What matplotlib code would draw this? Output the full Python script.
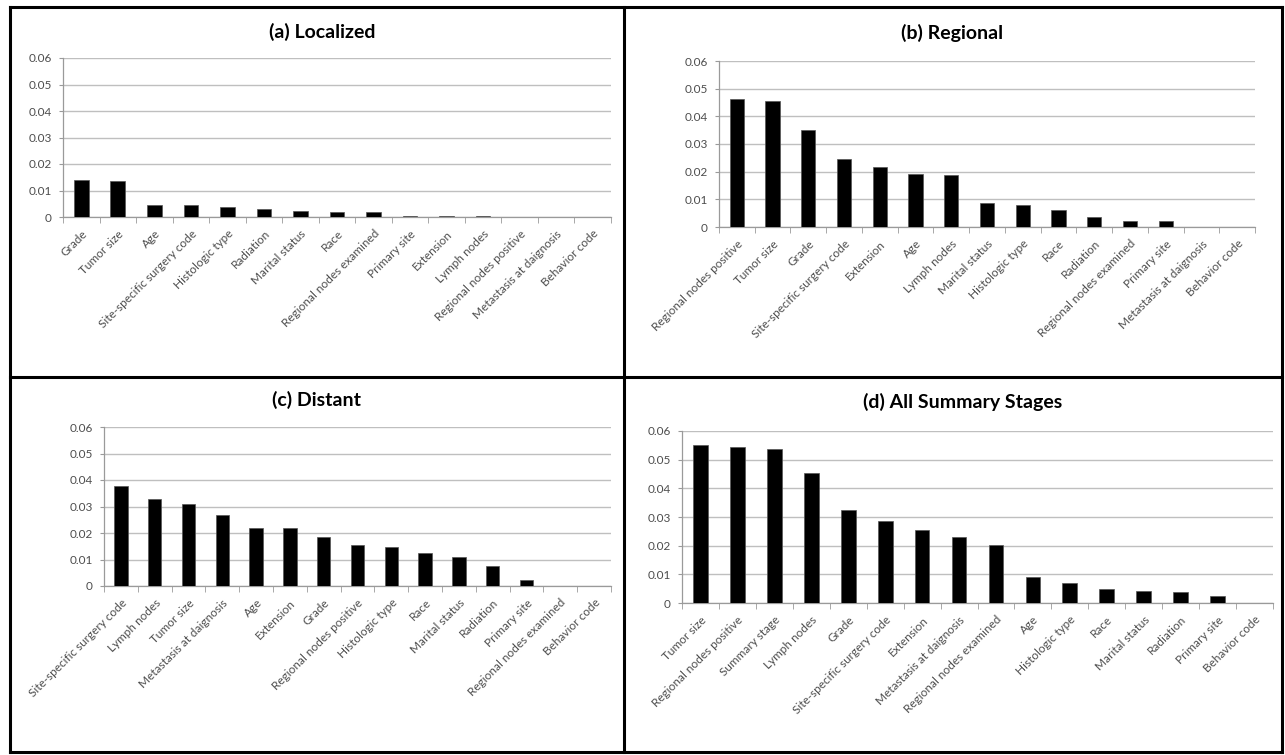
import matplotlib
matplotlib.use('Agg')
import matplotlib.pyplot as plt
from matplotlib.lines import Line2D
from matplotlib.ticker import FixedLocator

plt.rcParams['font.family'] = ['Lato', 'DejaVu Sans']

# feature importance per summary stage
loc_names = ['Grade', 'Tumor size', 'Age', 'Site-specific surgery code', 'Histologic type',
             'Radiation', 'Marital status', 'Race', 'Regional nodes examined', 'Primary site',
             'Extension', 'Lymph nodes', 'Regional nodes positive', 'Metastasis at daignosis',
             'Behavior code']
loc_vals = [0.0140, 0.0136, 0.0047, 0.0045, 0.0039, 0.0029, 0.0022, 0.0020, 0.0017,
            0.0003, 0.0003, 0.0003, 0, 0, 0]

reg_names = ['Regional nodes positive', 'Tumor size', 'Grade', 'Site-specific surgery code',
             'Extension', 'Age', 'Lymph nodes', 'Marital status', 'Histologic type', 'Race',
             'Radiation', 'Regional nodes examined', 'Primary site', 'Metastasis at daignosis',
             'Behavior code']
reg_vals = [0.0463, 0.0454, 0.0350, 0.0244, 0.0217, 0.0190, 0.0187, 0.0085, 0.0079,
            0.0062, 0.0035, 0.0023, 0.0022, 0, 0]

dis_names = ['Site-specific surgery code', 'Lymph nodes', 'Tumor size', 'Metastasis at daignosis',
             'Age', 'Extension', 'Grade', 'Regional nodes positive', 'Histologic type', 'Race',
             'Marital status', 'Radiation', 'Primary site', 'Regional nodes examined',
             'Behavior code']
dis_vals = [0.0378, 0.0330, 0.0309, 0.0267, 0.0218, 0.0218, 0.0186, 0.0153, 0.0147,
            0.0123, 0.0110, 0.0075, 0.0023, 0, 0]

all_names = ['Tumor size', 'Regional nodes positive', 'Summary stage', 'Lymph nodes', 'Grade',
             'Site-specific surgery code', 'Extension', 'Metastasis at daignosis',
             'Regional nodes examined', 'Age', 'Histologic type', 'Race', 'Marital status',
             'Radiation', 'Primary site', 'Behavior code']
all_vals = [0.0551, 0.0543, 0.0536, 0.0452, 0.0323, 0.0286, 0.0256, 0.0230, 0.0202,
            0.0091, 0.0071, 0.0048, 0.0042, 0.0038, 0.0024, 0]

yticks = [0, 0.01, 0.02, 0.03, 0.04, 0.05, 0.06]
ytick_labels = ['0', '0.01', '0.02', '0.03', '0.04', '0.05', '0.06']

W, H = 1285, 755
TXT = '#4d4d4d'
GRID = '#bfbfbf'
AXIS = '#9a9a9a'


def px_box(left, top, right, bottom):
    return [left / W, 1 - bottom / H, (right - left) / W, (bottom - top) / H]


def bar_panel(fig, box, names, vals, title, title_xy):
    ax = fig.add_axes(px_box(*box))
    n = len(names)
    xs = list(range(n))
    ax.bar(xs, vals, width=0.4, color='black', edgecolor='#555555', linewidth=0.5, zorder=3)
    ax.set_xlim(-0.5, n - 0.5)
    ax.set_ylim(0, 0.06)
    ax.set_yticks(yticks)
    ax.set_yticklabels(ytick_labels, color=TXT, fontsize=8.5)
    ax.yaxis.grid(True, color=GRID, linewidth=1.0, zorder=0)
    ax.set_xticks(xs)
    ax.set_xticklabels(names, rotation=45, ha='right', rotation_mode='anchor',
                       color=TXT, fontsize=8.5)
    ax.tick_params(axis='x', which='major', length=0, pad=8)
    ax.xaxis.set_minor_locator(FixedLocator([i - 0.5 for i in range(n + 1)]))
    ax.tick_params(axis='x', which='minor', length=4, color=AXIS, direction='out')
    ax.tick_params(axis='y', length=3, color=AXIS, pad=5)
    for s in ['top', 'right']:
        ax.spines[s].set_visible(False)
    for s in ['left', 'bottom']:
        ax.spines[s].set_color(AXIS)
        ax.spines[s].set_linewidth(0.9)
    fig.text(title_xy[0] / W, 1 - title_xy[1] / H, title, ha='center', va='center',
             fontsize=14, fontweight='bold', color='black')
    return ax


fig = plt.figure(figsize=(W / 100, H / 100), dpi=100)

bar_panel(fig, (63, 58, 611, 217), loc_names, loc_vals, '(a) Localized', (322, 32))
bar_panel(fig, (719, 61, 1255, 227), reg_names, reg_vals, '(b) Regional', (952, 33))
bar_panel(fig, (104, 427, 611, 586), dis_names, dis_vals, '(c) Distant', (316, 400))
bar_panel(fig, (682, 431, 1273, 603), all_names, all_vals, '(d) All Summary Stages', (963, 402))

# frame around the four panels
def fig_line(x0, y0, x1, y1):
    fig.add_artist(Line2D([x0 / W, x1 / W], [1 - y0 / H, 1 - y1 / H],
                          color='black', linewidth=2.2, solid_capstyle='projecting'))

L, T, R, B = 10, 7, 1282, 752
fig_line(L, T, R, T)
fig_line(L, B, R, B)
fig_line(L, T, L, B)
fig_line(R, T, R, B)
fig_line(624, T, 624, B)
fig_line(L, 377, R, 377)

fig.savefig('out.png', dpi=100, facecolor='white')
